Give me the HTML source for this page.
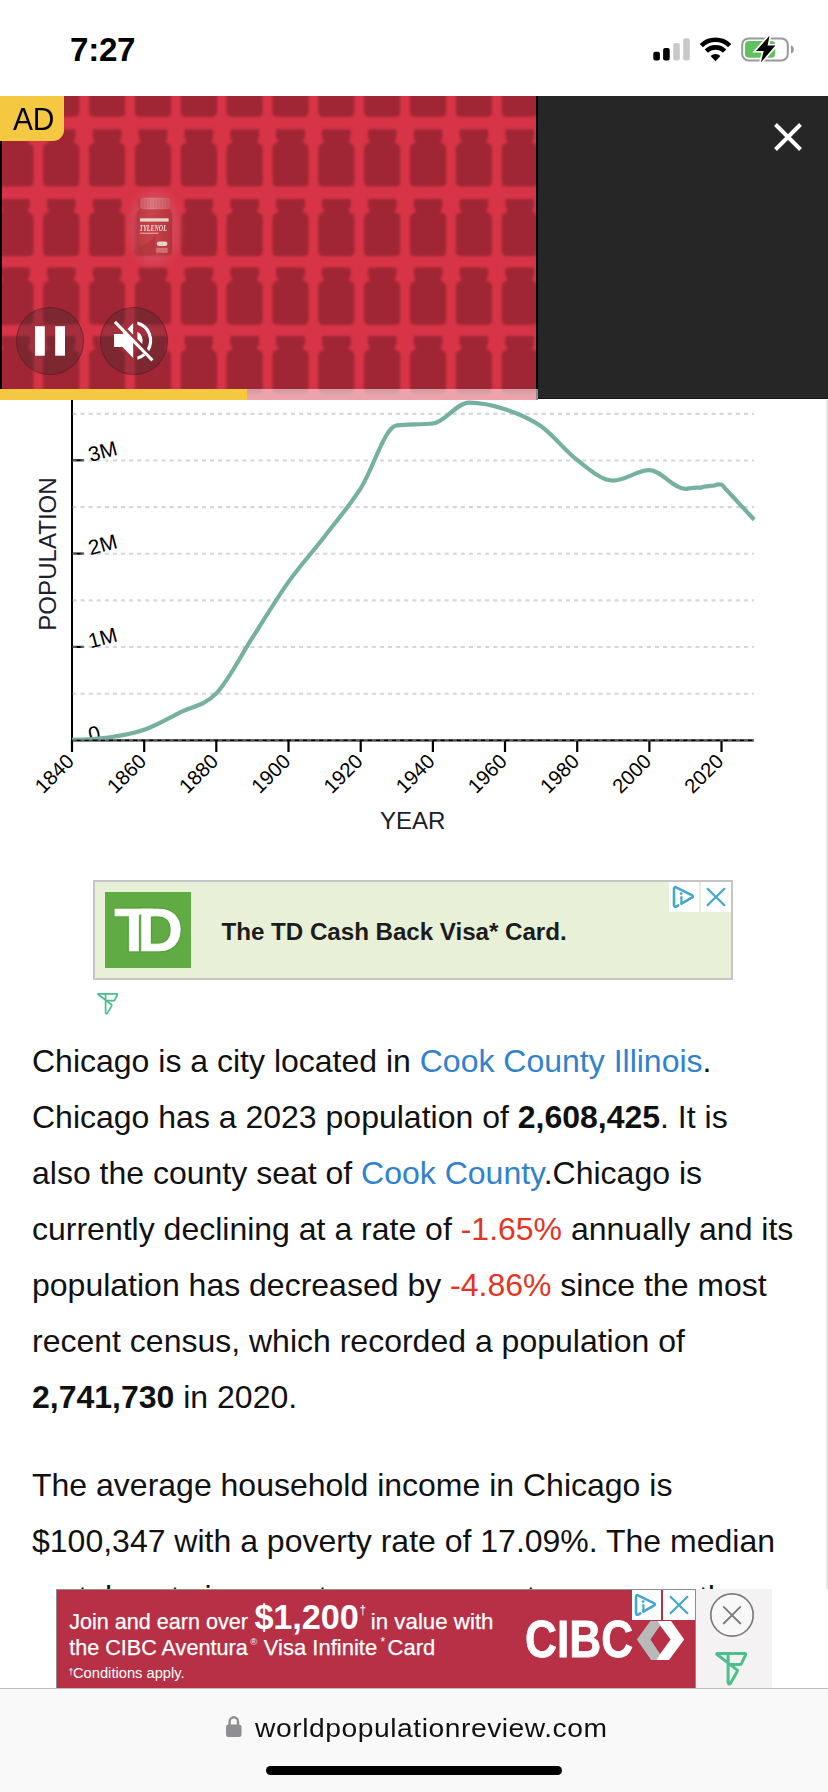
<!DOCTYPE html>
<html lang="en">
<head>
<meta charset="utf-8">
<title>Chicago, Illinois Population 2023</title>
<style>
*{margin:0;padding:0;box-sizing:border-box}
html,body{width:828px;height:1792px;overflow:hidden;background:#fff}
body{position:relative;font-family:"Liberation Sans",sans-serif;color:#111;-webkit-font-smoothing:antialiased}
.abs{position:absolute}
#time{left:70px;top:31.5px;font-size:33.2px;font-weight:700;line-height:36px;letter-spacing:-0.3px;color:#000}
#video{left:0;top:96px;width:538px;height:304px;background:#d73447;overflow:hidden}
#dark{left:538px;top:96px;width:290px;height:303px;background:#262626;border-bottom:1px solid #151515}
#adbadge{left:0;top:96px;width:64px;height:45.3px;background:#f5c842;border-bottom-right-radius:11px;color:#000}
#adbadge span{position:absolute;left:12.8px;top:4px;font-size:31.2px;line-height:40px;letter-spacing:-0.3px;transform:scaleX(.96);transform-origin:left;white-space:nowrap}
#prog{left:0;top:389px;width:538px;height:11px;background:rgba(255,255,255,.55)}
#prog i{display:block;width:247px;height:11px;background:#f5c842}
.cbtn{width:67.4px;height:67.4px;border-radius:50%;background:rgba(40,40,42,.29);border:1.5px solid rgba(90,15,30,.42)}
#chart{left:0;top:400px}
#chart text{font-family:"Liberation Sans",sans-serif}
#tdad{left:93px;top:880px;width:640px;height:99.6px;background:#e8f0d8;border:2px solid #c5c5c5}
#tdtext{left:126.6px;top:34px;font-size:24.2px;line-height:32px;font-weight:700;color:#1c1c1c;letter-spacing:-0.05px;white-space:nowrap}
#copy{left:32px;top:1033px;width:790px;font-size:32px;line-height:56px;color:#111;white-space:nowrap}
#copy p{margin-bottom:32px}
#copy a{color:#3182ce;text-decoration:none}
#copy .neg{color:#e5341f}
#copy b{font-weight:700}
#bottomad{left:56px;top:1589px;width:640px;height:99px;background:#b73045;border:1px solid #8f8f8f;border-bottom:none;color:#fff;overflow:hidden}
.bt1{font-size:21.6px;line-height:27px;white-space:nowrap;-webkit-text-stroke:.25px #fff}
#adside{left:696px;top:1589px;width:76px;height:100px;background:#f4f2f3}
#bar{left:0;top:1687.5px;width:828px;height:105px;background:#f9f9f9;border-top:1.5px solid #bdbdbd}
#url{left:254.5px;top:22px;font-size:26px;line-height:34px;color:#111;white-space:nowrap;letter-spacing:0.5px;transform:scaleX(1.086);transform-origin:left}
#home{left:266px;top:77px;width:296px;height:9.6px;border-radius:5px;background:#000}
</style>
</head>
<body>

<!-- status bar -->
<div id="time" class="abs">7:27</div>
<svg class="abs" style="left:640px;top:25px" width="170" height="50" viewBox="640 25 170 50">
  <rect x="653.3" y="51.7" width="6.6" height="8.8" rx="2" fill="#000"/>
  <rect x="663.1" y="48" width="6.6" height="12.5" rx="2" fill="#000"/>
  <rect x="673.2" y="43" width="6.6" height="17.5" rx="2" fill="#c8c8c8"/>
  <rect x="683.2" y="38.3" width="6.6" height="22.2" rx="2" fill="#c8c8c8"/>
  <!-- wifi -->
  <g fill="none" stroke="#000" stroke-width="4.6">
    <path d="M701.3,45.6A20.2,20.2 0 0 1 729.7,45.6"/>
    <path d="M706.4,51.2A12.8,12.8 0 0 1 724.6,51.2"/>
  </g>
  <path d="M715.5,61.2L710.6,56A6.9,6.9 0 0 1 720.4,56Z" fill="#000"/>
  <!-- battery -->
  <rect x="742.2" y="38.4" width="45.6" height="22" rx="6.5" fill="none" stroke="#999" stroke-width="2"/>
  <path d="M791,45.3v8.4c1.7-0.6 2.8-2.2 2.8-4.2s-1.1-3.6-2.8-4.2z" fill="#999"/>
  <rect x="744.9" y="41.1" width="30.2" height="16.7" rx="4" fill="#60c15f"/>
  <path d="M769.5,35.8L756,50.9H763.7L760.9,62.4L775.4,45.6H767.6Z" fill="#000" stroke="#fff" stroke-width="3.4" paint-order="stroke" stroke-linejoin="miter"/>
</svg>

<!-- video ad -->
<div id="video" class="abs">
<svg width="538" height="304" viewBox="0 0 538 304">
  <defs>
    <filter id="soft" x="-5%" y="-5%" width="110%" height="110%"><feGaussianBlur stdDeviation="0.85"/></filter>
    <filter id="glow" x="-50%" y="-50%" width="200%" height="200%"><feGaussianBlur stdDeviation="5"/></filter>
    <filter id="soft2"><feGaussianBlur stdDeviation="0.5"/></filter>
  </defs>
  <rect width="538" height="304" fill="#d73447"/>
  <path d="M2.50,-36.50H28.30Q29.80,-36.50,29.80,-35.00V-28.50Q29.80,-27.30,28.50,-27.10L27.90,-24.20Q28.20,-22.70,30.50,-21.90Q33.50,-20.90,33.50,-16.50V15.50Q33.50,20.80,28.20,20.80H2.60Q-2.70,20.80,-2.70,15.50V-16.50Q-2.70,-20.90,0.30,-21.90Q2.60,-22.70,2.90,-24.20L2.30,-27.10Q1.00,-27.30,1.00,-28.50V-35.00Q1.00,-36.50,2.50,-36.50ZM48.35,-36.50H74.15Q75.65,-36.50,75.65,-35.00V-28.50Q75.65,-27.30,74.35,-27.10L73.75,-24.20Q74.05,-22.70,76.35,-21.90Q79.35,-20.90,79.35,-16.50V15.50Q79.35,20.80,74.05,20.80H48.45Q43.15,20.80,43.15,15.50V-16.50Q43.15,-20.90,46.15,-21.90Q48.45,-22.70,48.75,-24.20L48.15,-27.10Q46.85,-27.30,46.85,-28.50V-35.00Q46.85,-36.50,48.35,-36.50ZM94.20,-36.50H120.00Q121.50,-36.50,121.50,-35.00V-28.50Q121.50,-27.30,120.20,-27.10L119.60,-24.20Q119.90,-22.70,122.20,-21.90Q125.20,-20.90,125.20,-16.50V15.50Q125.20,20.80,119.90,20.80H94.30Q89.00,20.80,89.00,15.50V-16.50Q89.00,-20.90,92.00,-21.90Q94.30,-22.70,94.60,-24.20L94.00,-27.10Q92.70,-27.30,92.70,-28.50V-35.00Q92.70,-36.50,94.20,-36.50ZM140.05,-36.50H165.85Q167.35,-36.50,167.35,-35.00V-28.50Q167.35,-27.30,166.05,-27.10L165.45,-24.20Q165.75,-22.70,168.05,-21.90Q171.05,-20.90,171.05,-16.50V15.50Q171.05,20.80,165.75,20.80H140.15Q134.85,20.80,134.85,15.50V-16.50Q134.85,-20.90,137.85,-21.90Q140.15,-22.70,140.45,-24.20L139.85,-27.10Q138.55,-27.30,138.55,-28.50V-35.00Q138.55,-36.50,140.05,-36.50ZM185.90,-36.50H211.70Q213.20,-36.50,213.20,-35.00V-28.50Q213.20,-27.30,211.90,-27.10L211.30,-24.20Q211.60,-22.70,213.90,-21.90Q216.90,-20.90,216.90,-16.50V15.50Q216.90,20.80,211.60,20.80H186.00Q180.70,20.80,180.70,15.50V-16.50Q180.70,-20.90,183.70,-21.90Q186.00,-22.70,186.30,-24.20L185.70,-27.10Q184.40,-27.30,184.40,-28.50V-35.00Q184.40,-36.50,185.90,-36.50ZM231.75,-36.50H257.55Q259.05,-36.50,259.05,-35.00V-28.50Q259.05,-27.30,257.75,-27.10L257.15,-24.20Q257.45,-22.70,259.75,-21.90Q262.75,-20.90,262.75,-16.50V15.50Q262.75,20.80,257.45,20.80H231.85Q226.55,20.80,226.55,15.50V-16.50Q226.55,-20.90,229.55,-21.90Q231.85,-22.70,232.15,-24.20L231.55,-27.10Q230.25,-27.30,230.25,-28.50V-35.00Q230.25,-36.50,231.75,-36.50ZM277.60,-36.50H303.40Q304.90,-36.50,304.90,-35.00V-28.50Q304.90,-27.30,303.60,-27.10L303.00,-24.20Q303.30,-22.70,305.60,-21.90Q308.60,-20.90,308.60,-16.50V15.50Q308.60,20.80,303.30,20.80H277.70Q272.40,20.80,272.40,15.50V-16.50Q272.40,-20.90,275.40,-21.90Q277.70,-22.70,278.00,-24.20L277.40,-27.10Q276.10,-27.30,276.10,-28.50V-35.00Q276.10,-36.50,277.60,-36.50ZM323.45,-36.50H349.25Q350.75,-36.50,350.75,-35.00V-28.50Q350.75,-27.30,349.45,-27.10L348.85,-24.20Q349.15,-22.70,351.45,-21.90Q354.45,-20.90,354.45,-16.50V15.50Q354.45,20.80,349.15,20.80H323.55Q318.25,20.80,318.25,15.50V-16.50Q318.25,-20.90,321.25,-21.90Q323.55,-22.70,323.85,-24.20L323.25,-27.10Q321.95,-27.30,321.95,-28.50V-35.00Q321.95,-36.50,323.45,-36.50ZM369.30,-36.50H395.10Q396.60,-36.50,396.60,-35.00V-28.50Q396.60,-27.30,395.30,-27.10L394.70,-24.20Q395.00,-22.70,397.30,-21.90Q400.30,-20.90,400.30,-16.50V15.50Q400.30,20.80,395.00,20.80H369.40Q364.10,20.80,364.10,15.50V-16.50Q364.10,-20.90,367.10,-21.90Q369.40,-22.70,369.70,-24.20L369.10,-27.10Q367.80,-27.30,367.80,-28.50V-35.00Q367.80,-36.50,369.30,-36.50ZM415.15,-36.50H440.95Q442.45,-36.50,442.45,-35.00V-28.50Q442.45,-27.30,441.15,-27.10L440.55,-24.20Q440.85,-22.70,443.15,-21.90Q446.15,-20.90,446.15,-16.50V15.50Q446.15,20.80,440.85,20.80H415.25Q409.95,20.80,409.95,15.50V-16.50Q409.95,-20.90,412.95,-21.90Q415.25,-22.70,415.55,-24.20L414.95,-27.10Q413.65,-27.30,413.65,-28.50V-35.00Q413.65,-36.50,415.15,-36.50ZM461.00,-36.50H486.80Q488.30,-36.50,488.30,-35.00V-28.50Q488.30,-27.30,487.00,-27.10L486.40,-24.20Q486.70,-22.70,489.00,-21.90Q492.00,-20.90,492.00,-16.50V15.50Q492.00,20.80,486.70,20.80H461.10Q455.80,20.80,455.80,15.50V-16.50Q455.80,-20.90,458.80,-21.90Q461.10,-22.70,461.40,-24.20L460.80,-27.10Q459.50,-27.30,459.50,-28.50V-35.00Q459.50,-36.50,461.00,-36.50ZM506.85,-36.50H532.65Q534.15,-36.50,534.15,-35.00V-28.50Q534.15,-27.30,532.85,-27.10L532.25,-24.20Q532.55,-22.70,534.85,-21.90Q537.85,-20.90,537.85,-16.50V15.50Q537.85,20.80,532.55,20.80H506.95Q501.65,20.80,501.65,15.50V-16.50Q501.65,-20.90,504.65,-21.90Q506.95,-22.70,507.25,-24.20L506.65,-27.10Q505.35,-27.30,505.35,-28.50V-35.00Q505.35,-36.50,506.85,-36.50ZM2.50,33.30H28.30Q29.80,33.30,29.80,34.80V41.30Q29.80,42.50,28.50,42.70L27.90,45.60Q28.20,47.10,30.50,47.90Q33.50,48.90,33.50,53.30V85.30Q33.50,90.60,28.20,90.60H2.60Q-2.70,90.60,-2.70,85.30V53.30Q-2.70,48.90,0.30,47.90Q2.60,47.10,2.90,45.60L2.30,42.70Q1.00,42.50,1.00,41.30V34.80Q1.00,33.30,2.50,33.30ZM48.35,33.30H74.15Q75.65,33.30,75.65,34.80V41.30Q75.65,42.50,74.35,42.70L73.75,45.60Q74.05,47.10,76.35,47.90Q79.35,48.90,79.35,53.30V85.30Q79.35,90.60,74.05,90.60H48.45Q43.15,90.60,43.15,85.30V53.30Q43.15,48.90,46.15,47.90Q48.45,47.10,48.75,45.60L48.15,42.70Q46.85,42.50,46.85,41.30V34.80Q46.85,33.30,48.35,33.30ZM94.20,33.30H120.00Q121.50,33.30,121.50,34.80V41.30Q121.50,42.50,120.20,42.70L119.60,45.60Q119.90,47.10,122.20,47.90Q125.20,48.90,125.20,53.30V85.30Q125.20,90.60,119.90,90.60H94.30Q89.00,90.60,89.00,85.30V53.30Q89.00,48.90,92.00,47.90Q94.30,47.10,94.60,45.60L94.00,42.70Q92.70,42.50,92.70,41.30V34.80Q92.70,33.30,94.20,33.30ZM140.05,33.30H165.85Q167.35,33.30,167.35,34.80V41.30Q167.35,42.50,166.05,42.70L165.45,45.60Q165.75,47.10,168.05,47.90Q171.05,48.90,171.05,53.30V85.30Q171.05,90.60,165.75,90.60H140.15Q134.85,90.60,134.85,85.30V53.30Q134.85,48.90,137.85,47.90Q140.15,47.10,140.45,45.60L139.85,42.70Q138.55,42.50,138.55,41.30V34.80Q138.55,33.30,140.05,33.30ZM185.90,33.30H211.70Q213.20,33.30,213.20,34.80V41.30Q213.20,42.50,211.90,42.70L211.30,45.60Q211.60,47.10,213.90,47.90Q216.90,48.90,216.90,53.30V85.30Q216.90,90.60,211.60,90.60H186.00Q180.70,90.60,180.70,85.30V53.30Q180.70,48.90,183.70,47.90Q186.00,47.10,186.30,45.60L185.70,42.70Q184.40,42.50,184.40,41.30V34.80Q184.40,33.30,185.90,33.30ZM231.75,33.30H257.55Q259.05,33.30,259.05,34.80V41.30Q259.05,42.50,257.75,42.70L257.15,45.60Q257.45,47.10,259.75,47.90Q262.75,48.90,262.75,53.30V85.30Q262.75,90.60,257.45,90.60H231.85Q226.55,90.60,226.55,85.30V53.30Q226.55,48.90,229.55,47.90Q231.85,47.10,232.15,45.60L231.55,42.70Q230.25,42.50,230.25,41.30V34.80Q230.25,33.30,231.75,33.30ZM277.60,33.30H303.40Q304.90,33.30,304.90,34.80V41.30Q304.90,42.50,303.60,42.70L303.00,45.60Q303.30,47.10,305.60,47.90Q308.60,48.90,308.60,53.30V85.30Q308.60,90.60,303.30,90.60H277.70Q272.40,90.60,272.40,85.30V53.30Q272.40,48.90,275.40,47.90Q277.70,47.10,278.00,45.60L277.40,42.70Q276.10,42.50,276.10,41.30V34.80Q276.10,33.30,277.60,33.30ZM323.45,33.30H349.25Q350.75,33.30,350.75,34.80V41.30Q350.75,42.50,349.45,42.70L348.85,45.60Q349.15,47.10,351.45,47.90Q354.45,48.90,354.45,53.30V85.30Q354.45,90.60,349.15,90.60H323.55Q318.25,90.60,318.25,85.30V53.30Q318.25,48.90,321.25,47.90Q323.55,47.10,323.85,45.60L323.25,42.70Q321.95,42.50,321.95,41.30V34.80Q321.95,33.30,323.45,33.30ZM369.30,33.30H395.10Q396.60,33.30,396.60,34.80V41.30Q396.60,42.50,395.30,42.70L394.70,45.60Q395.00,47.10,397.30,47.90Q400.30,48.90,400.30,53.30V85.30Q400.30,90.60,395.00,90.60H369.40Q364.10,90.60,364.10,85.30V53.30Q364.10,48.90,367.10,47.90Q369.40,47.10,369.70,45.60L369.10,42.70Q367.80,42.50,367.80,41.30V34.80Q367.80,33.30,369.30,33.30ZM415.15,33.30H440.95Q442.45,33.30,442.45,34.80V41.30Q442.45,42.50,441.15,42.70L440.55,45.60Q440.85,47.10,443.15,47.90Q446.15,48.90,446.15,53.30V85.30Q446.15,90.60,440.85,90.60H415.25Q409.95,90.60,409.95,85.30V53.30Q409.95,48.90,412.95,47.90Q415.25,47.10,415.55,45.60L414.95,42.70Q413.65,42.50,413.65,41.30V34.80Q413.65,33.30,415.15,33.30ZM461.00,33.30H486.80Q488.30,33.30,488.30,34.80V41.30Q488.30,42.50,487.00,42.70L486.40,45.60Q486.70,47.10,489.00,47.90Q492.00,48.90,492.00,53.30V85.30Q492.00,90.60,486.70,90.60H461.10Q455.80,90.60,455.80,85.30V53.30Q455.80,48.90,458.80,47.90Q461.10,47.10,461.40,45.60L460.80,42.70Q459.50,42.50,459.50,41.30V34.80Q459.50,33.30,461.00,33.30ZM506.85,33.30H532.65Q534.15,33.30,534.15,34.80V41.30Q534.15,42.50,532.85,42.70L532.25,45.60Q532.55,47.10,534.85,47.90Q537.85,48.90,537.85,53.30V85.30Q537.85,90.60,532.55,90.60H506.95Q501.65,90.60,501.65,85.30V53.30Q501.65,48.90,504.65,47.90Q506.95,47.10,507.25,45.60L506.65,42.70Q505.35,42.50,505.35,41.30V34.80Q505.35,33.30,506.85,33.30ZM2.50,102.90H28.30Q29.80,102.90,29.80,104.40V110.90Q29.80,112.10,28.50,112.30L27.90,115.20Q28.20,116.70,30.50,117.50Q33.50,118.50,33.50,122.90V154.90Q33.50,160.20,28.20,160.20H2.60Q-2.70,160.20,-2.70,154.90V122.90Q-2.70,118.50,0.30,117.50Q2.60,116.70,2.90,115.20L2.30,112.30Q1.00,112.10,1.00,110.90V104.40Q1.00,102.90,2.50,102.90ZM48.35,102.90H74.15Q75.65,102.90,75.65,104.40V110.90Q75.65,112.10,74.35,112.30L73.75,115.20Q74.05,116.70,76.35,117.50Q79.35,118.50,79.35,122.90V154.90Q79.35,160.20,74.05,160.20H48.45Q43.15,160.20,43.15,154.90V122.90Q43.15,118.50,46.15,117.50Q48.45,116.70,48.75,115.20L48.15,112.30Q46.85,112.10,46.85,110.90V104.40Q46.85,102.90,48.35,102.90ZM94.20,102.90H120.00Q121.50,102.90,121.50,104.40V110.90Q121.50,112.10,120.20,112.30L119.60,115.20Q119.90,116.70,122.20,117.50Q125.20,118.50,125.20,122.90V154.90Q125.20,160.20,119.90,160.20H94.30Q89.00,160.20,89.00,154.90V122.90Q89.00,118.50,92.00,117.50Q94.30,116.70,94.60,115.20L94.00,112.30Q92.70,112.10,92.70,110.90V104.40Q92.70,102.90,94.20,102.90ZM140.05,102.90H165.85Q167.35,102.90,167.35,104.40V110.90Q167.35,112.10,166.05,112.30L165.45,115.20Q165.75,116.70,168.05,117.50Q171.05,118.50,171.05,122.90V154.90Q171.05,160.20,165.75,160.20H140.15Q134.85,160.20,134.85,154.90V122.90Q134.85,118.50,137.85,117.50Q140.15,116.70,140.45,115.20L139.85,112.30Q138.55,112.10,138.55,110.90V104.40Q138.55,102.90,140.05,102.90ZM185.90,102.90H211.70Q213.20,102.90,213.20,104.40V110.90Q213.20,112.10,211.90,112.30L211.30,115.20Q211.60,116.70,213.90,117.50Q216.90,118.50,216.90,122.90V154.90Q216.90,160.20,211.60,160.20H186.00Q180.70,160.20,180.70,154.90V122.90Q180.70,118.50,183.70,117.50Q186.00,116.70,186.30,115.20L185.70,112.30Q184.40,112.10,184.40,110.90V104.40Q184.40,102.90,185.90,102.90ZM231.75,102.90H257.55Q259.05,102.90,259.05,104.40V110.90Q259.05,112.10,257.75,112.30L257.15,115.20Q257.45,116.70,259.75,117.50Q262.75,118.50,262.75,122.90V154.90Q262.75,160.20,257.45,160.20H231.85Q226.55,160.20,226.55,154.90V122.90Q226.55,118.50,229.55,117.50Q231.85,116.70,232.15,115.20L231.55,112.30Q230.25,112.10,230.25,110.90V104.40Q230.25,102.90,231.75,102.90ZM277.60,102.90H303.40Q304.90,102.90,304.90,104.40V110.90Q304.90,112.10,303.60,112.30L303.00,115.20Q303.30,116.70,305.60,117.50Q308.60,118.50,308.60,122.90V154.90Q308.60,160.20,303.30,160.20H277.70Q272.40,160.20,272.40,154.90V122.90Q272.40,118.50,275.40,117.50Q277.70,116.70,278.00,115.20L277.40,112.30Q276.10,112.10,276.10,110.90V104.40Q276.10,102.90,277.60,102.90ZM323.45,102.90H349.25Q350.75,102.90,350.75,104.40V110.90Q350.75,112.10,349.45,112.30L348.85,115.20Q349.15,116.70,351.45,117.50Q354.45,118.50,354.45,122.90V154.90Q354.45,160.20,349.15,160.20H323.55Q318.25,160.20,318.25,154.90V122.90Q318.25,118.50,321.25,117.50Q323.55,116.70,323.85,115.20L323.25,112.30Q321.95,112.10,321.95,110.90V104.40Q321.95,102.90,323.45,102.90ZM369.30,102.90H395.10Q396.60,102.90,396.60,104.40V110.90Q396.60,112.10,395.30,112.30L394.70,115.20Q395.00,116.70,397.30,117.50Q400.30,118.50,400.30,122.90V154.90Q400.30,160.20,395.00,160.20H369.40Q364.10,160.20,364.10,154.90V122.90Q364.10,118.50,367.10,117.50Q369.40,116.70,369.70,115.20L369.10,112.30Q367.80,112.10,367.80,110.90V104.40Q367.80,102.90,369.30,102.90ZM415.15,102.90H440.95Q442.45,102.90,442.45,104.40V110.90Q442.45,112.10,441.15,112.30L440.55,115.20Q440.85,116.70,443.15,117.50Q446.15,118.50,446.15,122.90V154.90Q446.15,160.20,440.85,160.20H415.25Q409.95,160.20,409.95,154.90V122.90Q409.95,118.50,412.95,117.50Q415.25,116.70,415.55,115.20L414.95,112.30Q413.65,112.10,413.65,110.90V104.40Q413.65,102.90,415.15,102.90ZM461.00,102.90H486.80Q488.30,102.90,488.30,104.40V110.90Q488.30,112.10,487.00,112.30L486.40,115.20Q486.70,116.70,489.00,117.50Q492.00,118.50,492.00,122.90V154.90Q492.00,160.20,486.70,160.20H461.10Q455.80,160.20,455.80,154.90V122.90Q455.80,118.50,458.80,117.50Q461.10,116.70,461.40,115.20L460.80,112.30Q459.50,112.10,459.50,110.90V104.40Q459.50,102.90,461.00,102.90ZM506.85,102.90H532.65Q534.15,102.90,534.15,104.40V110.90Q534.15,112.10,532.85,112.30L532.25,115.20Q532.55,116.70,534.85,117.50Q537.85,118.50,537.85,122.90V154.90Q537.85,160.20,532.55,160.20H506.95Q501.65,160.20,501.65,154.90V122.90Q501.65,118.50,504.65,117.50Q506.95,116.70,507.25,115.20L506.65,112.30Q505.35,112.10,505.35,110.90V104.40Q505.35,102.90,506.85,102.90ZM2.50,171.50H28.30Q29.80,171.50,29.80,173.00V179.50Q29.80,180.70,28.50,180.90L27.90,183.80Q28.20,185.30,30.50,186.10Q33.50,187.10,33.50,191.50V223.50Q33.50,228.80,28.20,228.80H2.60Q-2.70,228.80,-2.70,223.50V191.50Q-2.70,187.10,0.30,186.10Q2.60,185.30,2.90,183.80L2.30,180.90Q1.00,180.70,1.00,179.50V173.00Q1.00,171.50,2.50,171.50ZM48.35,171.50H74.15Q75.65,171.50,75.65,173.00V179.50Q75.65,180.70,74.35,180.90L73.75,183.80Q74.05,185.30,76.35,186.10Q79.35,187.10,79.35,191.50V223.50Q79.35,228.80,74.05,228.80H48.45Q43.15,228.80,43.15,223.50V191.50Q43.15,187.10,46.15,186.10Q48.45,185.30,48.75,183.80L48.15,180.90Q46.85,180.70,46.85,179.50V173.00Q46.85,171.50,48.35,171.50ZM94.20,171.50H120.00Q121.50,171.50,121.50,173.00V179.50Q121.50,180.70,120.20,180.90L119.60,183.80Q119.90,185.30,122.20,186.10Q125.20,187.10,125.20,191.50V223.50Q125.20,228.80,119.90,228.80H94.30Q89.00,228.80,89.00,223.50V191.50Q89.00,187.10,92.00,186.10Q94.30,185.30,94.60,183.80L94.00,180.90Q92.70,180.70,92.70,179.50V173.00Q92.70,171.50,94.20,171.50ZM140.05,171.50H165.85Q167.35,171.50,167.35,173.00V179.50Q167.35,180.70,166.05,180.90L165.45,183.80Q165.75,185.30,168.05,186.10Q171.05,187.10,171.05,191.50V223.50Q171.05,228.80,165.75,228.80H140.15Q134.85,228.80,134.85,223.50V191.50Q134.85,187.10,137.85,186.10Q140.15,185.30,140.45,183.80L139.85,180.90Q138.55,180.70,138.55,179.50V173.00Q138.55,171.50,140.05,171.50ZM185.90,171.50H211.70Q213.20,171.50,213.20,173.00V179.50Q213.20,180.70,211.90,180.90L211.30,183.80Q211.60,185.30,213.90,186.10Q216.90,187.10,216.90,191.50V223.50Q216.90,228.80,211.60,228.80H186.00Q180.70,228.80,180.70,223.50V191.50Q180.70,187.10,183.70,186.10Q186.00,185.30,186.30,183.80L185.70,180.90Q184.40,180.70,184.40,179.50V173.00Q184.40,171.50,185.90,171.50ZM231.75,171.50H257.55Q259.05,171.50,259.05,173.00V179.50Q259.05,180.70,257.75,180.90L257.15,183.80Q257.45,185.30,259.75,186.10Q262.75,187.10,262.75,191.50V223.50Q262.75,228.80,257.45,228.80H231.85Q226.55,228.80,226.55,223.50V191.50Q226.55,187.10,229.55,186.10Q231.85,185.30,232.15,183.80L231.55,180.90Q230.25,180.70,230.25,179.50V173.00Q230.25,171.50,231.75,171.50ZM277.60,171.50H303.40Q304.90,171.50,304.90,173.00V179.50Q304.90,180.70,303.60,180.90L303.00,183.80Q303.30,185.30,305.60,186.10Q308.60,187.10,308.60,191.50V223.50Q308.60,228.80,303.30,228.80H277.70Q272.40,228.80,272.40,223.50V191.50Q272.40,187.10,275.40,186.10Q277.70,185.30,278.00,183.80L277.40,180.90Q276.10,180.70,276.10,179.50V173.00Q276.10,171.50,277.60,171.50ZM323.45,171.50H349.25Q350.75,171.50,350.75,173.00V179.50Q350.75,180.70,349.45,180.90L348.85,183.80Q349.15,185.30,351.45,186.10Q354.45,187.10,354.45,191.50V223.50Q354.45,228.80,349.15,228.80H323.55Q318.25,228.80,318.25,223.50V191.50Q318.25,187.10,321.25,186.10Q323.55,185.30,323.85,183.80L323.25,180.90Q321.95,180.70,321.95,179.50V173.00Q321.95,171.50,323.45,171.50ZM369.30,171.50H395.10Q396.60,171.50,396.60,173.00V179.50Q396.60,180.70,395.30,180.90L394.70,183.80Q395.00,185.30,397.30,186.10Q400.30,187.10,400.30,191.50V223.50Q400.30,228.80,395.00,228.80H369.40Q364.10,228.80,364.10,223.50V191.50Q364.10,187.10,367.10,186.10Q369.40,185.30,369.70,183.80L369.10,180.90Q367.80,180.70,367.80,179.50V173.00Q367.80,171.50,369.30,171.50ZM415.15,171.50H440.95Q442.45,171.50,442.45,173.00V179.50Q442.45,180.70,441.15,180.90L440.55,183.80Q440.85,185.30,443.15,186.10Q446.15,187.10,446.15,191.50V223.50Q446.15,228.80,440.85,228.80H415.25Q409.95,228.80,409.95,223.50V191.50Q409.95,187.10,412.95,186.10Q415.25,185.30,415.55,183.80L414.95,180.90Q413.65,180.70,413.65,179.50V173.00Q413.65,171.50,415.15,171.50ZM461.00,171.50H486.80Q488.30,171.50,488.30,173.00V179.50Q488.30,180.70,487.00,180.90L486.40,183.80Q486.70,185.30,489.00,186.10Q492.00,187.10,492.00,191.50V223.50Q492.00,228.80,486.70,228.80H461.10Q455.80,228.80,455.80,223.50V191.50Q455.80,187.10,458.80,186.10Q461.10,185.30,461.40,183.80L460.80,180.90Q459.50,180.70,459.50,179.50V173.00Q459.50,171.50,461.00,171.50ZM506.85,171.50H532.65Q534.15,171.50,534.15,173.00V179.50Q534.15,180.70,532.85,180.90L532.25,183.80Q532.55,185.30,534.85,186.10Q537.85,187.10,537.85,191.50V223.50Q537.85,228.80,532.55,228.80H506.95Q501.65,228.80,501.65,223.50V191.50Q501.65,187.10,504.65,186.10Q506.95,185.30,507.25,183.80L506.65,180.90Q505.35,180.70,505.35,179.50V173.00Q505.35,171.50,506.85,171.50ZM2.50,240.10H28.30Q29.80,240.10,29.80,241.60V248.10Q29.80,249.30,28.50,249.50L27.90,252.40Q28.20,253.90,30.50,254.70Q33.50,255.70,33.50,260.10V292.10Q33.50,297.40,28.20,297.40H2.60Q-2.70,297.40,-2.70,292.10V260.10Q-2.70,255.70,0.30,254.70Q2.60,253.90,2.90,252.40L2.30,249.50Q1.00,249.30,1.00,248.10V241.60Q1.00,240.10,2.50,240.10ZM48.35,240.10H74.15Q75.65,240.10,75.65,241.60V248.10Q75.65,249.30,74.35,249.50L73.75,252.40Q74.05,253.90,76.35,254.70Q79.35,255.70,79.35,260.10V292.10Q79.35,297.40,74.05,297.40H48.45Q43.15,297.40,43.15,292.10V260.10Q43.15,255.70,46.15,254.70Q48.45,253.90,48.75,252.40L48.15,249.50Q46.85,249.30,46.85,248.10V241.60Q46.85,240.10,48.35,240.10ZM94.20,240.10H120.00Q121.50,240.10,121.50,241.60V248.10Q121.50,249.30,120.20,249.50L119.60,252.40Q119.90,253.90,122.20,254.70Q125.20,255.70,125.20,260.10V292.10Q125.20,297.40,119.90,297.40H94.30Q89.00,297.40,89.00,292.10V260.10Q89.00,255.70,92.00,254.70Q94.30,253.90,94.60,252.40L94.00,249.50Q92.70,249.30,92.70,248.10V241.60Q92.70,240.10,94.20,240.10ZM140.05,240.10H165.85Q167.35,240.10,167.35,241.60V248.10Q167.35,249.30,166.05,249.50L165.45,252.40Q165.75,253.90,168.05,254.70Q171.05,255.70,171.05,260.10V292.10Q171.05,297.40,165.75,297.40H140.15Q134.85,297.40,134.85,292.10V260.10Q134.85,255.70,137.85,254.70Q140.15,253.90,140.45,252.40L139.85,249.50Q138.55,249.30,138.55,248.10V241.60Q138.55,240.10,140.05,240.10ZM185.90,240.10H211.70Q213.20,240.10,213.20,241.60V248.10Q213.20,249.30,211.90,249.50L211.30,252.40Q211.60,253.90,213.90,254.70Q216.90,255.70,216.90,260.10V292.10Q216.90,297.40,211.60,297.40H186.00Q180.70,297.40,180.70,292.10V260.10Q180.70,255.70,183.70,254.70Q186.00,253.90,186.30,252.40L185.70,249.50Q184.40,249.30,184.40,248.10V241.60Q184.40,240.10,185.90,240.10ZM231.75,240.10H257.55Q259.05,240.10,259.05,241.60V248.10Q259.05,249.30,257.75,249.50L257.15,252.40Q257.45,253.90,259.75,254.70Q262.75,255.70,262.75,260.10V292.10Q262.75,297.40,257.45,297.40H231.85Q226.55,297.40,226.55,292.10V260.10Q226.55,255.70,229.55,254.70Q231.85,253.90,232.15,252.40L231.55,249.50Q230.25,249.30,230.25,248.10V241.60Q230.25,240.10,231.75,240.10ZM277.60,240.10H303.40Q304.90,240.10,304.90,241.60V248.10Q304.90,249.30,303.60,249.50L303.00,252.40Q303.30,253.90,305.60,254.70Q308.60,255.70,308.60,260.10V292.10Q308.60,297.40,303.30,297.40H277.70Q272.40,297.40,272.40,292.10V260.10Q272.40,255.70,275.40,254.70Q277.70,253.90,278.00,252.40L277.40,249.50Q276.10,249.30,276.10,248.10V241.60Q276.10,240.10,277.60,240.10ZM323.45,240.10H349.25Q350.75,240.10,350.75,241.60V248.10Q350.75,249.30,349.45,249.50L348.85,252.40Q349.15,253.90,351.45,254.70Q354.45,255.70,354.45,260.10V292.10Q354.45,297.40,349.15,297.40H323.55Q318.25,297.40,318.25,292.10V260.10Q318.25,255.70,321.25,254.70Q323.55,253.90,323.85,252.40L323.25,249.50Q321.95,249.30,321.95,248.10V241.60Q321.95,240.10,323.45,240.10ZM369.30,240.10H395.10Q396.60,240.10,396.60,241.60V248.10Q396.60,249.30,395.30,249.50L394.70,252.40Q395.00,253.90,397.30,254.70Q400.30,255.70,400.30,260.10V292.10Q400.30,297.40,395.00,297.40H369.40Q364.10,297.40,364.10,292.10V260.10Q364.10,255.70,367.10,254.70Q369.40,253.90,369.70,252.40L369.10,249.50Q367.80,249.30,367.80,248.10V241.60Q367.80,240.10,369.30,240.10ZM415.15,240.10H440.95Q442.45,240.10,442.45,241.60V248.10Q442.45,249.30,441.15,249.50L440.55,252.40Q440.85,253.90,443.15,254.70Q446.15,255.70,446.15,260.10V292.10Q446.15,297.40,440.85,297.40H415.25Q409.95,297.40,409.95,292.10V260.10Q409.95,255.70,412.95,254.70Q415.25,253.90,415.55,252.40L414.95,249.50Q413.65,249.30,413.65,248.10V241.60Q413.65,240.10,415.15,240.10ZM461.00,240.10H486.80Q488.30,240.10,488.30,241.60V248.10Q488.30,249.30,487.00,249.50L486.40,252.40Q486.70,253.90,489.00,254.70Q492.00,255.70,492.00,260.10V292.10Q492.00,297.40,486.70,297.40H461.10Q455.80,297.40,455.80,292.10V260.10Q455.80,255.70,458.80,254.70Q461.10,253.90,461.40,252.40L460.80,249.50Q459.50,249.30,459.50,248.10V241.60Q459.50,240.10,461.00,240.10ZM506.85,240.10H532.65Q534.15,240.10,534.15,241.60V248.10Q534.15,249.30,532.85,249.50L532.25,252.40Q532.55,253.90,534.85,254.70Q537.85,255.70,537.85,260.10V292.10Q537.85,297.40,532.55,297.40H506.95Q501.65,297.40,501.65,292.10V260.10Q501.65,255.70,504.65,254.70Q506.95,253.90,507.25,252.40L506.65,249.50Q505.35,249.30,505.35,248.10V241.60Q505.35,240.10,506.85,240.10Z" fill="#a02534" filter="url(#soft)"/>
  <!-- hero bottle -->
  <defs>
    <linearGradient id="hb" x1="0" y1="0" x2="1" y2="0"><stop offset="0" stop-color="#b8383f"/><stop offset=".35" stop-color="#c9434a"/><stop offset="1" stop-color="#b5343c"/></linearGradient>
    <linearGradient id="hc" x1="0" y1="0" x2="1" y2="0"><stop offset="0" stop-color="#cf5a62"/><stop offset=".4" stop-color="#e08088"/><stop offset="1" stop-color="#cc555e"/></linearGradient>
  </defs>
  <ellipse cx="154.5" cy="132" rx="25" ry="37" fill="#d4586c" opacity=".55" filter="url(#glow)"/>
  <g filter="url(#soft2)">
    <path d="M141.5,112.5h27q3.7,1.5 3.7,6v36.5q0,4.5 -4.5,4.5h-26.4q-4.5,0 -4.5,-4.5v-36.5q0,-4.5 4.7,-6z" fill="url(#hb)"/>
    <rect x="140.2" y="101.8" width="29.6" height="11.4" rx="3.2" fill="url(#hc)"/>
    <path d="M143,103v9M146,103v9M149,103v9M152,103v9M155,103v9M158,103v9M161,103v9M164,103v9M167,103v9" stroke="#c24f59" stroke-width=".9" opacity=".7"/>
    <rect x="140" y="122.3" width="28.6" height="3.3" fill="#ecd2cd"/>
    <text x="153.2" y="134.6" font-family="'Liberation Serif',serif" font-style="italic" font-weight="700" font-size="8.6" fill="#f6e4de" text-anchor="middle" textLength="27.4" lengthAdjust="spacingAndGlyphs">TYLENOL</text>
    <rect x="140" y="136.6" width="18.5" height="1.4" fill="#de9592"/>
    <rect x="156.8" y="145.6" width="10.6" height="4.4" rx="2.2" fill="#ead0cc"/>
    <rect x="156.2" y="151.8" width="11.4" height="5" fill="#d27a7a" opacity=".85"/>
    <path d="M138.5,150q12,-2 17,-12l0,21.5h-13q-4,0 -4,-4z" fill="#a83038" opacity=".5"/>
  </g>
</svg>
</div>
<div class="abs" style="left:0;top:141px;width:2.4px;height:248px;background:#000"></div>
<div class="abs" style="left:536px;top:96px;width:2px;height:304px;background:#000"></div>
<div id="dark" class="abs"></div>
<div id="adbadge" class="abs"><span>AD</span></div>
<svg class="abs" style="left:770px;top:119px" width="36" height="36" viewBox="0 0 36 36"><path d="M5.5,5.5L30.5,30.5M30.5,5.5L5.5,30.5" stroke="#fff" stroke-width="3.9" fill="none"/></svg>
<!-- controls -->
<div class="abs cbtn" style="left:16.2px;top:307.2px"></div>
<div class="abs cbtn" style="left:100.3px;top:307.2px"></div>
<svg class="abs" style="left:16px;top:306px" width="160" height="70" viewBox="16 306 160 70">
  <rect x="35" y="326.2" width="9.8" height="29.5" fill="#fff"/>
  <rect x="55.2" y="326.2" width="9.8" height="29.5" fill="#fff"/>
  <!-- muted speaker -->
  <g transform="translate(107.7 314.4) scale(2.12 2.18)" fill="#fff">
    <path d="M3,9H7L8,8L12,12V20L7,15H3Z"/>
    <path d="M12,4L9.35,6.65L12,9.3Z"/>
    <path d="M14,7.97A4.5,4.5 0 0 1 16.23,13.53L14,11.3Z"/>
    <path d="M14,3.23A9,9 0 0 1 19.57,16.87L18.48,15.78A7.5,7.5 0 0 0 14,4.77Z"/>
    <path d="M14,20.77A9,9 0 0 0 17.84,18.84L16.78,17.78A7.5,7.5 0 0 1 14,19.23Z"/>
    <path d="M3.4,3.4L21.1,21.1" stroke="#fff" stroke-width="1.42" fill="none"/>
  </g>
</svg>
<div id="prog" class="abs"><i></i></div>

<!-- chart -->
<svg id="chart" class="abs" width="828" height="460" viewBox="0 400 828 460">
  <path d="M71,740.3H753.8" stroke="#000" stroke-width="2.2" fill="none"/>
  <path d="M72,400V741.4" stroke="#000" stroke-width="2" fill="none"/>
  <g stroke="#000" stroke-width="2.2" fill="none">
    <path d="M73,460.3H83.8"/><path d="M73,553.6H83.8"/><path d="M73,646.9H83.8"/>
    <path d="M72.0,740.3V752"/><path d="M144.2,740.3V752"/><path d="M216.3,740.3V752"/><path d="M288.5,740.3V752"/><path d="M360.7,740.3V752"/>
    <path d="M432.9,740.3V752"/><path d="M505.0,740.3V752"/><path d="M577.2,740.3V752"/><path d="M649.4,740.3V752"/><path d="M721.5,740.3V752"/>
  </g>
  <g stroke="#a9afb7" stroke-opacity=".5" stroke-width="2.1" stroke-dasharray="4.045 4.045" fill="none">
    <path d="M72.5,413.9H754"/><path d="M72.5,460.5H754"/><path d="M72.5,507.1H754"/><path d="M72.5,553.8H754"/>
    <path d="M72.5,600.4H754"/><path d="M72.5,647H754"/><path d="M72.5,693.7H754"/><path d="M72.5,740.3H753.8"/>
  </g>
  <g font-size="20.8" fill="#000">
    <text transform="translate(90.6,462.0) rotate(-15)">3M</text>
    <text transform="translate(90.6,555.3) rotate(-15)">2M</text>
    <text transform="translate(90.6,648.6) rotate(-15)">1M</text>
    <text transform="translate(90.6,742.0) rotate(-15)">0</text>
  </g>
  <g font-size="20.3" fill="#000" text-anchor="end">
    <text transform="translate(75.2,762.6) rotate(-45)">1840</text>
    <text transform="translate(147.4,762.6) rotate(-45)">1860</text>
    <text transform="translate(219.5,762.6) rotate(-45)">1880</text>
    <text transform="translate(291.7,762.6) rotate(-45)">1900</text>
    <text transform="translate(363.9,762.6) rotate(-45)">1920</text>
    <text transform="translate(436.1,762.6) rotate(-45)">1940</text>
    <text transform="translate(508.2,762.6) rotate(-45)">1960</text>
    <text transform="translate(580.4,762.6) rotate(-45)">1980</text>
    <text transform="translate(652.6,762.6) rotate(-45)">2000</text>
    <text transform="translate(724.7,762.6) rotate(-45)">2020</text>
  </g>
  <clipPath id="plot"><rect x="71" y="396" width="686" height="343.5"/></clipPath>
  <path d="M72.00,739.88C84.03,739.49,96.06,739.09,108.09,737.51C120.11,735.92,132.14,734.02,144.17,729.84C156.20,725.66,168.23,718.49,180.25,712.41C192.28,706.34,204.31,705.82,216.34,693.37C228.37,680.92,240.40,656.30,252.42,637.72C264.45,619.13,276.48,598.75,288.51,581.87C300.54,565.00,312.57,552.07,324.60,536.48C336.62,520.88,348.65,506.83,360.68,488.31C372.71,469.80,384.74,426.65,396.76,425.38C408.79,424.11,420.82,424.75,432.85,423.48C444.88,422.21,456.91,402.57,468.94,402.57C480.96,402.57,492.99,405.21,505.02,409.15C517.05,413.10,529.08,417.79,541.11,426.26C553.13,434.74,565.16,450.95,577.19,460.02C589.22,469.08,601.25,480.66,613.27,480.66C625.30,480.66,637.33,470.19,649.36,470.19C661.39,470.19,673.42,488.88,685.44,488.88C686.65,488.88,687.85,488.59,689.05,488.45C690.26,488.31,691.46,488.16,692.66,488.02C693.86,487.88,695.07,487.59,696.27,487.59C697.47,487.59,698.68,487.76,699.88,487.76C701.08,487.76,702.28,486.97,703.49,486.73C704.69,486.49,705.89,486.44,707.10,486.30C708.30,486.16,709.50,486.01,710.70,485.87C711.91,485.73,713.11,485.68,714.31,485.44C715.52,485.20,716.72,484.41,717.92,484.41C719.12,484.41,720.33,484.47,721.53,484.58C722.74,484.69,723.95,487.18,725.16,488.48C726.37,489.78,727.58,491.08,728.79,492.38C730.00,493.68,731.21,494.99,732.42,496.29C733.63,497.59,734.84,498.89,736.05,500.19C737.26,501.49,738.47,502.79,739.68,504.09C740.89,505.39,742.10,506.69,743.31,507.99C744.52,509.29,745.73,510.59,746.94,511.90C748.15,513.20,749.36,514.50,750.57,515.80C751.78,517.10,752.99,518.40,754.20,519.70" stroke="#76b0a0" stroke-width="4.2" fill="none" stroke-linejoin="round" clip-path="url(#plot)"/>
  <text transform="translate(56,554) rotate(-90)" font-size="24.1" fill="#1a202c" text-anchor="middle">POPULATION</text>
  <text x="412.7" y="828.9" font-size="24.1" fill="#1a202c" text-anchor="middle">YEAR</text>
</svg>

<div class="abs" style="left:826px;top:400px;width:2px;height:1189px;background:#e5e6ea"></div>

<!-- TD ad -->
<div id="tdad" class="abs">
  <svg class="abs" style="left:9.8px;top:10px" width="86" height="76.2" viewBox="0 0 86 76.2">
    <rect width="86" height="76.2" fill="#61ab44"/>
    <g font-family="'Liberation Sans',sans-serif" font-weight="700" font-size="61.8" stroke-linejoin="round">
      <g fill="#4e9934" stroke="#4e9934" stroke-width="3.4" opacity=".5"><text transform="translate(28.8 59.3) scale(1.04 1)" text-anchor="middle">T</text><text transform="translate(31.9 59.3) scale(1.03 1)">D</text></g>
      <g fill="#fff" stroke="#fff" stroke-width=".6"><text transform="translate(28.8 59.3) scale(1.04 1)" text-anchor="middle">T</text><text transform="translate(31.9 59.3) scale(1.03 1)">D</text></g>
    </g>
    <path d="M35.25,22.4V59.8" stroke="#61ab44" stroke-width="1.9" fill="none"/>
  </svg>
  <div id="tdtext" class="abs">The TD Cash Back Visa* Card.</div>
  <div class="abs" style="left:573.8px;top:0;width:30.4px;height:30px;background:#fff"></div>
  <div class="abs" style="left:606px;top:0;width:30px;height:30px;background:#fff"></div>
  <svg class="abs" style="left:574px;top:0" width="64" height="30" viewBox="0 0 64 30">
    <path d="M9.3,23.4L7.3,24.5Q5,25.6 5,22.6V7.2Q5,4.2 7.6,5.6L22.8,13.2Q24.9,14.4 22.8,15.7L12.4,21.6" fill="none" stroke="#43a8cb" stroke-width="2.6" stroke-linejoin="round" stroke-linecap="round"/>
    <circle cx="12.1" cy="11.6" r="1.45" fill="#43a8cb"/>
    <path d="M12.4,15.2V21.4" stroke="#43a8cb" stroke-width="2.2" stroke-linecap="round"/>
    <path d="M38,6.3L55.9,23.7M55.9,6.3L38,23.7" stroke="#43a8cb" stroke-width="2.3" fill="none"/>
  </svg>
</div>
<!-- freestar mark -->
<svg class="abs" style="left:88px;top:984px" width="40" height="40" viewBox="88 984 40 40">
  <g fill="none" stroke="#4cbd8a" stroke-width="1.7" stroke-linejoin="round" stroke-linecap="round">
    <path d="M98.2,993.8H116.6Q117.7,993.8 117.2,995L114.6,1000.2Q114.3,1000.7 113.6,1000.7H105.8"/>
    <path d="M105.6,993.8V1012.4Q105.9,1014.4 107.2,1013.4L111.7,1005.6Q112.1,1004.9 111.4,1004.5L98,994.3"/>
  </g>
</svg>

<!-- copy -->
<div id="copy" class="abs">
<p>Chicago is a city located in <a>Cook County</a> <a>Illinois</a>.<br>
Chicago has a 2023 population of <b>2,608,425</b>. It is<br>
also the county seat of <a>Cook County</a>.Chicago is<br>
currently declining at a rate of <span class="neg">-1.65%</span> annually and its<br>
population has decreased by <span class="neg">-4.86%</span> since the most<br>
recent census, which recorded a population of<br>
<b>2,741,730</b> in 2020.</p>
<p>The average household income in Chicago is<br>
$100,347 with a poverty rate of 17.09%. The median<br>
rental costs in recent years comes to - per month,<br>
and the median house value is -.</p>
</div>

<!-- bottom sticky ad -->
<div class="abs" style="left:0;top:1589px;width:828px;height:100px;background:#fff"></div>
<div id="adside" class="abs">
  <svg class="abs" style="left:0;top:0" width="76" height="100" viewBox="696 1589 76 100">
    <circle cx="732" cy="1615" r="21.2" fill="#f9f8f9" stroke="#7b7b7b" stroke-width="1.7"/>
    <path d="M723.2,1606.4L740.8,1624M740.8,1606.4L723.2,1624" stroke="#7b7b7b" stroke-width="1.8" fill="none"/>
    <g fill="none" stroke="#4dbf8a" stroke-width="3" stroke-linejoin="round" stroke-linecap="round">
      <path d="M717,1653.6H744.4Q746.2,1653.6 745.4,1655.4L741.4,1663.6Q740.9,1664.6 739.8,1664.6H728.4"/>
      <path d="M728.1,1653.6V1682Q728.5,1685 730.4,1683.4L737.2,1671.4Q737.8,1670.4 736.7,1669.6L716.8,1654.2"/>
    </g>
  </svg>
</div>
<div id="bottomad" class="abs">
  <div class="abs bt1" style="left:12.2px;top:18px">Join and earn over</div>
  <div class="abs" style="left:197.4px;top:7.4px;font-size:34.3px;line-height:40px;font-weight:700;white-space:nowrap;letter-spacing:-0.1px">$1,200</div>
  <div class="abs" style="left:302.5px;top:13px;font-size:12px;line-height:14px">†</div>
  <div class="abs bt1" style="left:313.8px;top:17.8px;font-size:22.3px">in value with</div>
  <div class="abs bt1" style="left:12.2px;top:44.3px">the CIBC Aventura</div>
  <div class="abs" style="left:193.2px;top:46px;font-size:9.5px;line-height:12px">®</div>
  <div class="abs bt1" style="left:206.8px;top:44.2px;font-size:22px">Visa Infinite</div>
  <div class="abs" style="left:323.5px;top:45px;font-size:12px;line-height:14px">*</div>
  <div class="abs bt1" style="left:330.6px;top:44.2px;font-size:22px">Card</div>
  <div class="abs" style="left:11.5px;top:76.5px;font-size:9px;line-height:10px">†</div>
  <div class="abs" style="left:16px;top:73.5px;font-size:14.7px;line-height:18px;white-space:nowrap">Conditions apply.</div>
  <div class="abs" style="left:468.3px;top:24.3px;font-size:52px;line-height:50px;font-weight:700;color:#fff;-webkit-text-stroke:.8px #fff;transform:scaleX(.851);transform-origin:left;white-space:nowrap">CIBC</div>
  <svg class="abs" style="left:574px;top:25px" width="60" height="50" viewBox="631 1615 60 50">
    <path d="M636.8,1639.6L650.4,1621H657.5L660.1,1625.6L650.4,1639.6L660.1,1654L656.3,1659.9H651.2Z" fill="#b9b9b9"/>
    <path d="M657.5,1621H671.1L684.2,1639.6L669,1659.9H656.3L660.1,1654L670.6,1639.6L660.1,1625.6Z" fill="#fff"/>
  </svg>
  <div class="abs" style="left:575px;top:0;width:29.3px;height:30px;background:#fff"></div>
  <div class="abs" style="left:606.4px;top:0;width:31.6px;height:30px;background:#fff"></div>
  <svg class="abs" style="left:574.3px;top:0" width="64" height="30" viewBox="0 0 64 30">
    <path d="M9.3,23.4L7.3,24.5Q5,25.6 5,22.6V7.2Q5,4.2 7.6,5.6L22.8,13.2Q24.9,14.4 22.8,15.7L12.4,21.6" fill="none" stroke="#43a8cb" stroke-width="2.6" stroke-linejoin="round" stroke-linecap="round"/>
    <circle cx="12.1" cy="11.6" r="1.45" fill="#43a8cb"/>
    <path d="M12.4,15.2V21.4" stroke="#43a8cb" stroke-width="2.2" stroke-linecap="round"/>
    <path d="M39,6.3L56.9,23.7M56.9,6.3L39,23.7" stroke="#43a8cb" stroke-width="2.3" fill="none"/>
  </svg>
</div>

<!-- browser bar -->
<div id="bar" class="abs">
  <svg class="abs" style="left:223.7px;top:25px" width="20" height="26" viewBox="0 0 20 26">
    <rect x="2" y="10.5" width="15.5" height="12.5" rx="2.5" fill="#8e8e93"/>
    <path d="M5.6,11V7.5a4.2,4.2 0 0 1 8.4,0V11" fill="none" stroke="#8e8e93" stroke-width="2.4"/>
  </svg>
  <div id="url" class="abs">worldpopulationreview.com</div>
  <div id="home" class="abs"></div>
</div>
</body>
</html>
